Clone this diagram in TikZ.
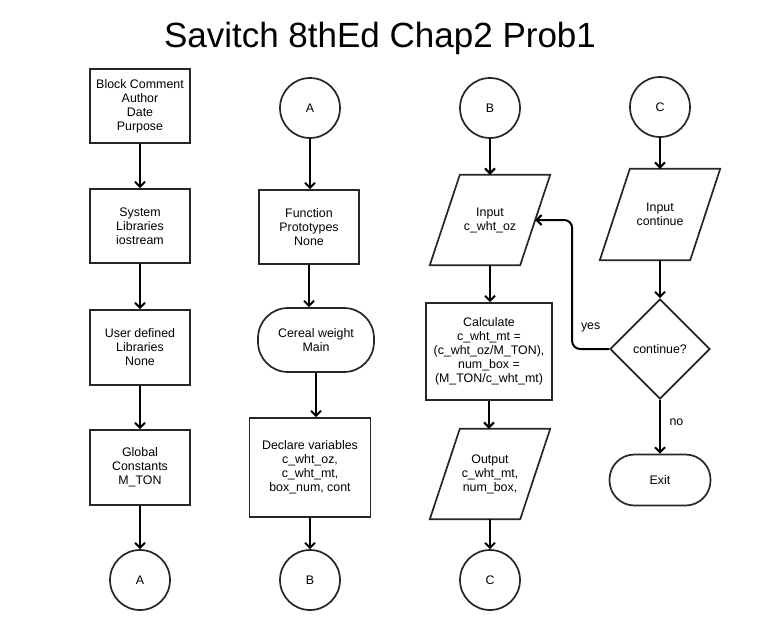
\documentclass[tikz,border=0pt]{standalone}
\usepackage{fontspec}
\setmainfont{Liberation Sans}
\usetikzlibrary{shapes.geometric,arrows.meta}
% outline of a data (input/output) block: a parallelogram leaning right
\newcommand\drawio[1]{%
  \draw[shapeline] ([xshift=15pt]#1.north west) -- ([xshift=15pt]#1.north east)
    -- ([xshift=-15pt]#1.south east) -- ([xshift=-15pt]#1.south west) -- cycle;}
\begin{document}
\begin{tikzpicture}[x=1pt,y=-1pt,
  every node/.style={font=\fontsize{12.4}{14}\selectfont, align=center, text=black},
  shapeline/.style={draw=black!85, line width=1.7pt},
  procbox/.style={shapeline, rectangle, inner sep=0pt},
  connector/.style={shapeline, circle, minimum size=60pt, inner sep=0pt},
  io/.style={rectangle, minimum width=90pt, minimum height=90pt, inner sep=0pt},
  terminal/.style={shapeline, rectangle, rounded corners=30pt, inner sep=0pt},
  decision/.style={shapeline, diamond, minimum width=100pt, minimum height=100pt, inner sep=0pt},
  flow/.style={draw=black, line width=2pt, -{Straight Barb[length=5pt,width=10pt]}},
  edgelabel/.style={inner sep=0pt},
]
\useasboundingbox[fill=white] (0,0) rectangle (778,630);

% title
\node[anchor=base, font=\fontsize{35}{42}\selectfont] (title) at (380,47) {Savitch 8thEd Chap2 Prob1};

% column 1: program header
\node[procbox, minimum width=100pt, minimum height=74pt] (hdr) at (140,106) {Block Comment\\Author\\Date\\Purpose};
\node[procbox, minimum width=100pt, minimum height=74pt] (syslib) at (140,226) {System\\Libraries\\iostream};
\node[procbox, minimum width=100pt, minimum height=75pt] (usrlib) at (140,347.5) {User defined\\Libraries\\None};
\node[procbox, minimum width=100pt, minimum height=75pt] (glob) at (140,467.5) {Global\\Constants\\M\_TON};
\node[connector] (outA) at (140,580) {A};

% column 2: prototypes and main
\node[connector] (inA) at (310,108) {A};
\node[procbox, minimum width=100pt, minimum height=74pt] (proto) at (309,227) {Function\\Prototypes\\None};
\node[terminal, minimum width=116pt, minimum height=64pt] (mainfn) at (316,340) {Cereal weight\\Main};
\node[procbox, minimum width=121pt, minimum height=99pt] (decl) at (310,467.5) {Declare variables\\c\_wht\_oz,\\c\_wht\_mt,\\box\_num, cont};
\node[connector] (outB) at (310,580) {B};

% column 3: input, calculation, output
\node[connector] (inB) at (490,108) {B};
\node[io] (inoz) at (490,220) {Input\\c\_wht\_oz};
\node[procbox, minimum width=126pt, minimum height=97pt] (calc) at (489,351.5) {Calculate\\c\_wht\_mt =\\(c\_wht\_oz/M\_TON),\\num\_box =\\(M\_TON/c\_wht\_mt)};
\node[io] (outp) at (490,474) {Output\\c\_wht\_mt,\\num\_box,};
\node[connector] (outC) at (490,580) {C};

% column 4: repeat loop
\node[connector] (inC) at (660,107) {C};
\node[io, minimum height=91pt] (incont) at (660,214.5) {Input\\continue};
\node[decision] (again) at (660,349) {continue?};
\node[terminal, minimum width=101pt, minimum height=51pt, rounded corners=25pt] (stop) at (660,480) {Exit};

% data block outlines
\drawio{inoz}
\drawio{outp}
\drawio{incont}

% flow lines
\draw[flow] (hdr) -- (syslib);
\draw[flow] (syslib) -- (usrlib);
\draw[flow] (usrlib) -- (glob);
\draw[flow] (glob) -- (outA);

\draw[flow] (inA) -- (inA |- proto.north);
\draw[flow] (proto.south) -- (proto.south |- mainfn.north);
\draw[flow] (mainfn.south) -- (mainfn.south |- decl.north);
\draw[flow] (decl.south) -- (decl.south |- outB.north);

\draw[flow] (inB) -- (inoz.north);
\draw[flow] (inoz.south) -- (inoz.south |- calc.north);
\draw[flow] (calc.south) -- (calc.south |- outp.north);
\draw[flow] (outp.south) -- (outC);

\draw[flow] (inC) -- (incont.north);
\draw[flow] (incont.south) -- (again.north);
\draw[flow] (again.south) -- node[edgelabel, pos=0.42, right=8.5pt] {no} (stop.north);
\draw[flow, rounded corners=8pt] (again.west) -- node[edgelabel, above=16pt] {yes} ++(-37,0) |- (inoz.east);
\end{tikzpicture}
\end{document}
